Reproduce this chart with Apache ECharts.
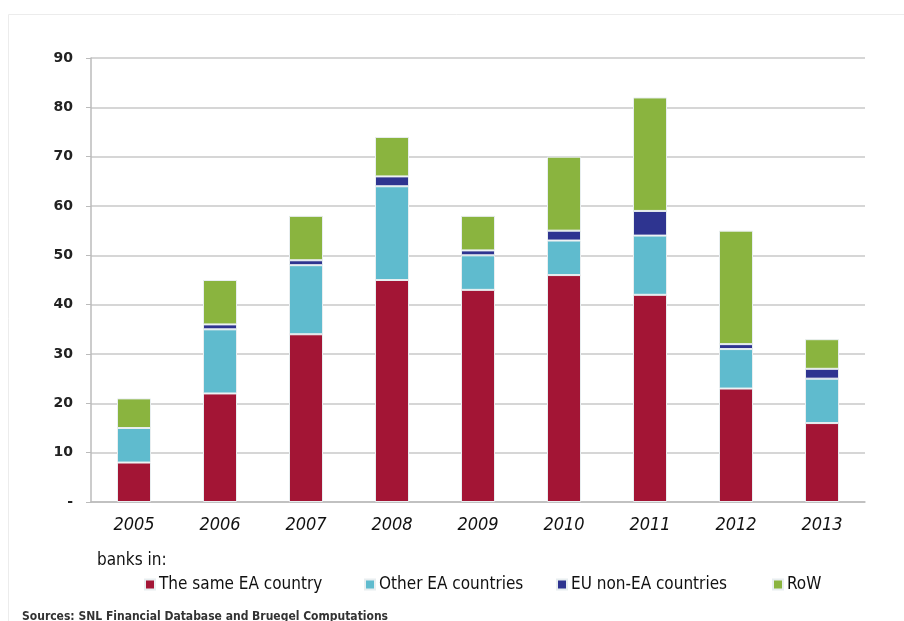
<!DOCTYPE html>
<html>
<head>
<meta charset="utf-8">
<script src="https://cdn.jsdelivr.net/npm/echarts@6/dist/echarts.min.js"></script>
<style>
html,body{margin:0;padding:0;background:#fff;}
#chart{width:904px;height:621px;}
</style>
</head>
<body>
<div id="chart"></div>
<script>
const years = ['2005','2006','2007','2008','2009','2010','2011','2012','2013'];
const sameEA = [8, 22, 34, 45, 43, 46, 42, 23, 16];
const otherEA = [7, 13, 14, 19, 7, 7, 12, 8, 9];
const euNonEA = [0, 1, 1, 2, 1, 2, 5, 1, 2];
const row = [6, 9, 9, 8, 7, 15, 23, 23, 6];
const seriesNames = ['The same EA country', 'Other EA countries', 'EU non-EA countries', 'RoW'];
const yTicks = [0, 10, 20, 30, 40, 50, 60, 70, 80, 90];

const colors = ['#A31535', '#5FBBCE', '#2E3490', '#8AB43F'];
const font = '"Liberation Sans Narrow", "DejaVu Sans Condensed", "DejaVu Sans", sans-serif';
const chart = echarts.init(document.getElementById('chart'));
const dataArr = [sameEA, otherEA, euNonEA, row];

const legendX = [139, 359, 551, 767];
const legends = seriesNames.map((n, i) => ({
  data: [n], left: legendX[i], top: 571, icon: 'rect', itemWidth: 10, itemHeight: 10, itemGap: 4,
  textStyle: {fontFamily: font, fontSize: 17, color: '#111', padding: [0,0,0,-1]}, selectedMode: false
}));

chart.setOption({
  animation: false,
  backgroundColor: '#fff',
  color: colors,
  graphic: [
    {type: 'rect', shape: {x: 8.5, y: 14.5, width: 910, height: 700}, style: {fill: 'none', stroke: '#ececec', lineWidth: 1}, silent: true},
    {type: 'text', left: 97, top: 552, style: {text: 'banks in:', fontFamily: font, fontSize: 17, fill: '#111'}},
    {type: 'text', left: 22, top: 611, style: {text: 'Sources: SNL Financial Database and Bruegel Computations', fontFamily: font, fontSize: 12, fontWeight: 'bold', fill: '#333'}}
  ],
  legend: legends,
  grid: {left: 91, right: 39, top: 58, bottom: 119},
  xAxis: {
    type: 'category', data: years,
    axisLine: {lineStyle: {color: '#bbb', width: 1.5}},
    axisTick: {show: false},
    axisLabel: {fontFamily: font, fontSize: 18, fontStyle: 'italic', color: '#111', margin: 14}
  },
  yAxis: {
    type: 'value', min: yTicks[0], max: yTicks[yTicks.length - 1], interval: 10,
    axisLine: {show: true, lineStyle: {color: '#bbb', width: 1.5}},
    axisTick: {show: true, length: 5, lineStyle: {color: '#bbb'}},
    splitLine: {lineStyle: {color: '#c8c8c8', width: 1.5}},
    axisLabel: {fontFamily: '"DejaVu Sans", sans-serif', fontSize: 14, fontWeight: 'bold', color: '#222', margin: 18,
      formatter: v => v === 0 ? '-' : String(v)}
  },
  series: seriesNames.map((n, i) => ({
    name: n, type: 'bar', stack: 'total', barWidth: 34,
    itemStyle: {color: colors[i], borderColor: '#e8eef0', borderWidth: 1},
    data: dataArr[i]
  }))
});
</script>
</body>
</html>
